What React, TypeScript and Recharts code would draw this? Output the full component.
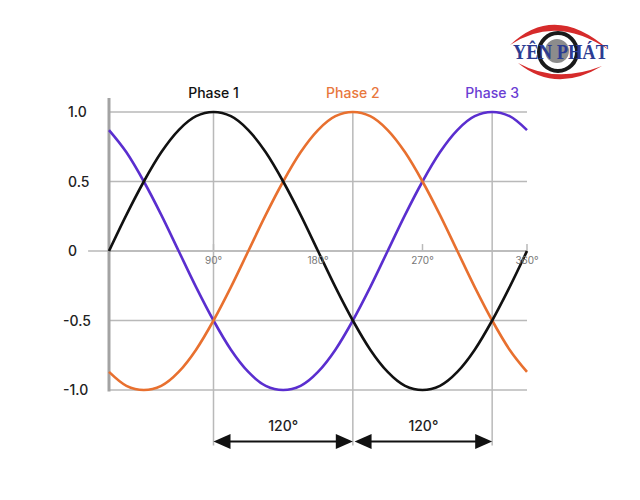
import React from 'react';
import { LineChart, Line, XAxis, YAxis, CartesianGrid, ReferenceLine } from 'recharts';

// angle in degrees
const ANGLES = [0, 15, 30, 45, 60, 75, 90, 105, 120, 135, 150, 165, 180, 195, 210, 225, 240, 255, 270, 285, 300, 315, 330, 345, 360];
const PHASE_1 = [0, 0.26, 0.5, 0.71, 0.87, 0.97, 1, 0.97, 0.87, 0.71, 0.5, 0.26, 0, -0.26, -0.5, -0.71, -0.87, -0.97, -1, -0.97, -0.87, -0.71, -0.5, -0.26, 0];
const PHASE_2 = [-0.87, -0.97, -1, -0.97, -0.87, -0.71, -0.5, -0.26, 0, 0.26, 0.5, 0.71, 0.87, 0.97, 1, 0.97, 0.87, 0.71, 0.5, 0.26, 0, -0.26, -0.5, -0.71, -0.87];
const PHASE_3 = [0.87, 0.71, 0.5, 0.26, 0, -0.26, -0.5, -0.71, -0.87, -0.97, -1, -0.97, -0.87, -0.71, -0.5, -0.26, 0, 0.26, 0.5, 0.71, 0.87, 0.97, 1, 0.97, 0.87];

const Y_TICKS = [-1, -0.5, 0, 0.5, 1];
const Y_TICK_LABELS = ['-1.0', '-0.5', '0', '0.5', '1.0'];
const DEGREE_TICKS = [90, 180, 270, 360];
const DEGREE_LABELS = ['90°', '180°', '270°', '360°'];
const PHASE_PEAKS = [90, 210, 330];
const PHASE_NAMES = ['Phase 1', 'Phase 2', 'Phase 3'];
const SHIFT_LABEL = '120°';

const COLORS = ['#111111', '#E8702F', '#5A2ECF'];
const LABEL_COLORS = ['#111111', '#E8773D', '#6A3DD3'];
const GRID = '#b9b9b9';
const FONT = 'Inter, "Noto Sans", sans-serif';

const data = ANGLES.map((angle, i) => ({
  angle,
  p1: PHASE_1[i],
  p2: PHASE_2[i],
  p3: PHASE_3[i],
}));

const YTick = (props: any) => {
  const { y, payload } = props;
  const idx = Y_TICKS.indexOf(payload.value);
  return (
    <text x={payload.value < 0 ? 63 : 68} y={y} dy={5} fontSize={14} fontWeight={500} fill="#222" fontFamily={FONT}>
      {Y_TICK_LABELS[idx]}
    </text>
  );
};

const Arrow = (props: any) => {
  const { x1, y1, x2, y2 } = props;
  const h = 17;
  const w = 7.5;
  return (
    <g>
      <line x1={x1 + h - 2} y1={y1} x2={x2 - h + 2} y2={y2} stroke="#111" strokeWidth={2} />
      <path d={`M${x1},${y1} L${x1 + h},${y1 - w} L${x1 + h},${y1 + w} Z`} fill="#111" />
      <path d={`M${x2},${y2} L${x2 - h},${y2 - w} L${x2 - h},${y2 + w} Z`} fill="#111" />
    </g>
  );
};

const Logo = () => (
  <svg width={640} height={500} style={{ position: 'absolute', left: 0, top: 0, pointerEvents: 'none' }}>
    <path d="M510,45 Q555,2 609,50 Q556,14 510,45 Z" fill="#d62b2b" />
    <path d="M518,63 Q556,94 602,66 Q556,84 518,63 Z" fill="#d62b2b" />
    <circle cx={557} cy={51} r={12} fill="#8c8c8c" />
    <circle cx={558} cy={52} r={19} fill="none" stroke="#1a1a1a" strokeWidth={4} />
    <text
      x={513}
      y={59}
      fontFamily='"Liberation Serif", "DejaVu Serif", serif'
      fontWeight={700}
      fontSize={20}
      fill="#2c3c92"
      textLength={95}
      lengthAdjust="spacingAndGlyphs"
    >
      YÊN PHÁT
    </text>
  </svg>
);

export default function App() {
  return (
    <div style={{ position: 'absolute', left: 0, top: 0, width: 640, height: 500, background: '#fff' }}>
      <LineChart width={640} height={500} data={data} margin={{ top: 112, right: 113, bottom: 110, left: 59 }}>
        <CartesianGrid vertical={false} stroke={GRID} strokeWidth={1.5} />
        <XAxis dataKey="angle" type="number" domain={[0, 360]} hide />
        <YAxis
          type="number"
          domain={[-1, 1]}
          ticks={Y_TICKS}
          width={50}
          axisLine={false}
          tickLine={false}
          tick={<YTick />}
        />
        {/* zero line reaching past the axis */}
        <ReferenceLine segment={[{ x: -18, y: 0 }, { x: 360, y: 0 }]} stroke={GRID} strokeWidth={1.5} ifOverflow="visible" />
        {/* phase peak guides with names */}
        {PHASE_PEAKS.map((p, i) => (
          <ReferenceLine
            key={`peak-${p}`}
            segment={[{ x: p, y: 1 }, { x: p, y: -1.4 }]}
            stroke={GRID}
            strokeWidth={1.5}
            ifOverflow="visible"
            label={{ value: PHASE_NAMES[i], position: 'top', offset: 14, fill: LABEL_COLORS[i], fontSize: 14, fontWeight: 500, fontFamily: FONT }}
          />
        ))}
        {/* degree ticks on the zero line */}
        {DEGREE_TICKS.map((d, i) => (
          <ReferenceLine
            key={`deg-${d}`}
            segment={[{ x: d, y: 0.05 }, { x: d, y: 0 }]}
            stroke={d === 180 ? 'none' : GRID}
            strokeWidth={1.5}
            ifOverflow="visible"
            label={{ value: DEGREE_LABELS[i], position: 'bottom', offset: 6, fill: '#777', fontSize: 10, fontFamily: FONT }}
          />
        ))}
        {/* axis bar */}
        <ReferenceLine segment={[{ x: 0, y: 1.1 }, { x: 0, y: -1.01 }]} stroke="#a3a3a3" strokeWidth={3} ifOverflow="visible" />
        <Line dataKey="p3" type="monotone" stroke={COLORS[2]} strokeWidth={2.6} dot={false} isAnimationActive={false} />
        <Line dataKey="p2" type="monotone" stroke={COLORS[1]} strokeWidth={2.6} dot={false} isAnimationActive={false} />
        <Line dataKey="p1" type="monotone" stroke={COLORS[0]} strokeWidth={2.6} dot={false} isAnimationActive={false} />
        {/* 120 degree spacing arrows */}
        <ReferenceLine
          segment={[{ x: PHASE_PEAKS[0], y: -1.37 }, { x: PHASE_PEAKS[1], y: -1.37 }]}
          ifOverflow="visible"
          shape={<Arrow />}
          label={{ value: SHIFT_LABEL, position: 'top', offset: 10, fill: '#222', fontSize: 14, fontWeight: 500, fontFamily: FONT }}
        />
        <ReferenceLine
          segment={[{ x: PHASE_PEAKS[1] + 1.5, y: -1.37 }, { x: PHASE_PEAKS[2], y: -1.37 }]}
          ifOverflow="visible"
          shape={<Arrow />}
          label={{ value: SHIFT_LABEL, position: 'top', offset: 10, fill: '#222', fontSize: 14, fontWeight: 500, fontFamily: FONT }}
        />
      </LineChart>
      <Logo />
    </div>
  );
}
